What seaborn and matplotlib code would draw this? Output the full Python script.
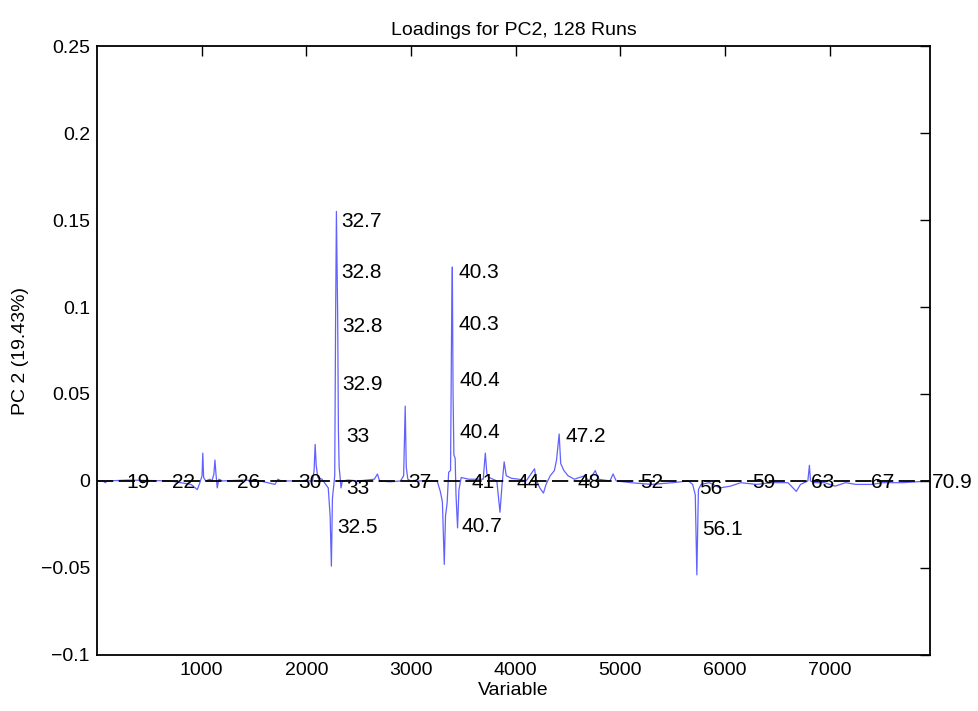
import numpy as np
import pandas as pd
import matplotlib
matplotlib.use('Agg')
import matplotlib.pyplot as plt
import seaborn as sns

# Loading trace for PC2
var_idx = [1, 60, 80, 100, 300, 700, 900, 960, 990, 1005, 1012, 1020, 1040, 1080, 1100,
           1118, 1128, 1138, 1150, 1165, 1200, 1400, 1560, 1700, 1730, 1760, 2060, 2075,
           2085, 2095, 2110, 2150, 2210, 2228, 2240, 2250, 2262, 2272, 2280, 2288, 2293,
           2300, 2307, 2314, 2322, 2332, 2345, 2400, 2500, 2650, 2680, 2700, 2800, 2900,
           2930, 2945, 2955, 2970, 3000, 3250, 3280, 3300, 3318, 3330, 3345, 3360, 3378,
           3388, 3395, 3402, 3410, 3422, 3430, 3445, 3458, 3480, 3550, 3690, 3710, 3725,
           3745, 3820, 3850, 3870, 3890, 3910, 3960, 4030, 4100, 4180, 4195, 4230, 4265,
           4290, 4330, 4370, 4390, 4415, 4430, 4460, 4500, 4560, 4660, 4700, 4760, 4790,
           4900, 4930, 4960, 5100, 5300, 5500, 5650, 5690, 5715, 5730, 5745, 5770, 5850,
           5950, 6050, 6150, 6300, 6450, 6600, 6680, 6720, 6790, 6805, 6815, 6850, 6950,
           7050, 7150, 7250, 7400, 7500, 7700, 7957]
loading = [0.0, 0.0, -0.001, 0.0, 0.0005, 0.0, -0.002, -0.005, 0.0, 0.003, 0.016, 0.002,
           0.0, 0.001, 0.0, 0.004, 0.012, 0.004, -0.004, 0.001, 0.0, 0.0005, 0.0, -0.002,
           0.001, 0.0, 0.0, 0.006, 0.021, 0.009, 0.002, 0.001, -0.004, -0.02, -0.049,
           -0.01, -0.003, 0.003, 0.09, 0.155, 0.129, 0.095, 0.03, 0.008, 0.003, -0.004,
           0.0, 0.0005, 0.0, 0.001, 0.004, 0.0, -0.0005, 0.0, 0.003, 0.043, 0.008, 0.001,
           0.0, 0.0, -0.006, -0.012, -0.048, -0.02, -0.013, 0.005, 0.006, 0.09, 0.123,
           0.05, 0.015, 0.013, -0.008, -0.027, -0.005, 0.002, 0.001, 0.001, 0.016, 0.004,
           0.002, 0.0, -0.018, -0.002, 0.011, 0.003, 0.0015, 0.001, 0.0, 0.007, 0.001,
           -0.004, -0.007, -0.002, 0.003, 0.006, 0.012, 0.027, 0.01, 0.006, 0.003, 0.001,
           0.003, 0.0, 0.006, 0.001, 0.0, 0.004, 0.0, -0.001, -0.002, -0.001, 0.0, -0.002,
           -0.008, -0.054, -0.005, -0.002, -0.001, -0.004, -0.003, -0.001, -0.002, -0.001,
           -0.001, -0.006, -0.002, 0.0, 0.009, 0.0, -0.001, -0.001, -0.003, -0.001, -0.002,
           -0.002, -0.001, -0.001, 0.0]

# retention-time labels along the zero line
rt_labels = ['19', '22', '26', '30', '37', '41', '44', '48', '52', '59', '63', '67', '70.9']
rt_x = [282, 722, 1335, 1919, 2971, 3574, 4005, 4589, 5191, 6254, 6818, 7392, 7976]

# labels next to peaks
peak_labels = ['32.7', '32.8', '32.8', '32.9', '33', '33', '32.5',
               '40.3', '40.3', '40.4', '40.4', '40.7', '47.2', '56', '56.1']
peak_x = [2330, 2330, 2340, 2340, 2378, 2378, 2292,
          3450, 3450, 3460, 3460, 3480, 4474, 5756, 5785]
peak_y = [0.149, 0.1201, 0.0891, 0.0557, 0.0253, -0.0046, -0.027,
          0.1201, 0.0897, 0.0575, 0.0276, -0.0264, 0.0253, -0.0046, -0.0282]

yticks = [-0.1, -0.05, 0, 0.05, 0.1, 0.15, 0.2, 0.25]
ytick_labels = ['\u22120.1', '\u22120.05', '0', '0.05', '0.1', '0.15', '0.2', '0.25']
xticks = [1000, 2000, 3000, 4000, 5000, 6000, 7000]

sns.set_style('white')
plt.rcParams['font.family'] = ['Liberation Sans', 'DejaVu Sans']
plt.rcParams['text.color'] = 'black'
plt.rcParams['axes.labelcolor'] = 'black'
plt.rcParams['xtick.color'] = 'black'
plt.rcParams['ytick.color'] = 'black'

df = pd.DataFrame({'Variable': var_idx, 'Loading': loading})

fig = plt.figure(figsize=(9.79, 7.11), dpi=100)
ax = fig.add_axes([0.099, 0.079, 0.851, 0.856])

sns.lineplot(data=df, x='Variable', y='Loading', sort=False, estimator=None,
             color='#3a3aff', lw=0.9, alpha=0.8, ax=ax)
ax.plot([1, 7957], [0, 0], color='black', lw=1.3, ls=(0, (9, 3)))

for lab, x in zip(rt_labels, rt_x):
    ax.text(x, -0.001, lab, fontsize=15, ha='left', va='center')
for lab, x, y in zip(peak_labels, peak_x, peak_y):
    ax.text(x, y, lab, fontsize=15, ha='left', va='center')

ax.set_xlim(1, 7957)
ax.set_ylim(-0.1, 0.25)
ax.set_xticks(xticks)
ax.set_xticklabels([str(t) for t in xticks], fontsize=14)
ax.set_yticks(yticks)
ax.set_yticklabels(ytick_labels, fontsize=14)
ax.tick_params(direction='in', length=7, width=1, top=True, right=True, pad=5)
for s in ax.spines.values():
    s.set_color('black')
    s.set_linewidth(1.3)

ax.set_title('Loadings for PC2, 128 Runs', fontsize=14, pad=8)
ax.set_xlabel('Variable', fontsize=14, labelpad=2)
ax.set_ylabel('PC 2 (19.43%)', fontsize=14, labelpad=8)

fig.savefig('out.png', dpi=100)
